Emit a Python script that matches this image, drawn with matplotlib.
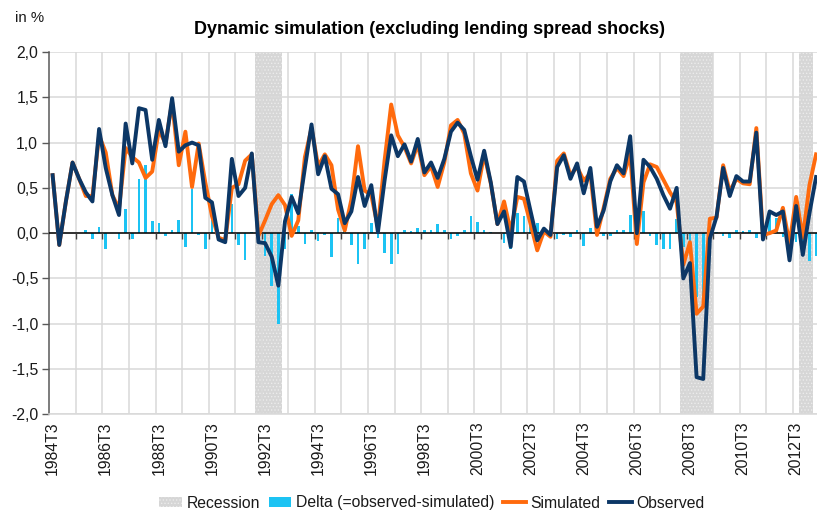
import matplotlib
matplotlib.use('Agg')
import matplotlib.pyplot as plt
from matplotlib.patches import Patch
from matplotlib.lines import Line2D
import numpy as np

plt.rcParams['font.family'] = ['Liberation Sans', 'DejaVu Sans']
plt.rcParams['hatch.linewidth'] = 0.6

# ---------------- data ----------------
start_year, start_q, n_quarters = 1984, 3, 116
quarters = []
yy, qq = start_year, start_q
for _ in range(n_quarters):
    quarters.append(f"{yy}T{qq}")
    qq += 1
    if qq > 4:
        qq, yy = 1, yy + 1

observed = [
    0.64, -0.13, 0.35, 0.78, 0.60, 0.45, 0.35, 1.15,
    0.72, 0.42, 0.20, 1.21, 0.77, 1.38, 1.36, 0.81,
    1.25, 0.96, 1.49, 0.90, 0.97, 1.00, 0.97, 0.39,
    0.34, -0.07, -0.10, 0.82, 0.41, 0.50, 0.88, -0.10,
    -0.11, -0.26, -0.58, 0.13, 0.40, 0.22, 0.72, 1.20,
    0.65, 0.85, 0.49, 0.43, 0.11, 0.24, 0.62, 0.30,
    0.53, 0.01, 0.58, 1.08, 0.85, 0.98, 0.79, 1.04,
    0.67, 0.78, 0.61, 0.82, 1.12, 1.22, 1.14, 0.85,
    0.59, 0.91, 0.56, 0.10, 0.24, -0.15, 0.62, 0.57,
    0.24, -0.08, 0.05, -0.02, 0.73, 0.86, 0.60, 0.77,
    0.44, 0.72, 0.07, 0.25, 0.57, 0.75, 0.66, 1.07,
    0.00, 0.81, 0.73, 0.60, 0.42, 0.27, 0.50, -0.50,
    -0.33, -1.59, -1.61, -0.06, 0.18, 0.72, 0.41, 0.63,
    0.57, 0.57, 1.11, -0.07, 0.24, 0.20, 0.24, -0.30,
    0.30, -0.24, 0.22, 0.62]

simulated = [
    0.64, -0.13, 0.35, 0.78, 0.60, 0.41, 0.41, 1.08,
    0.89, 0.42, 0.27, 0.94, 0.84, 0.78, 0.61, 0.68,
    1.14, 0.99, 1.45, 0.75, 1.12, 0.51, 0.99, 0.56,
    0.19, -0.05, -0.08, 0.50, 0.54, 0.80, 0.87, -0.03,
    0.14, 0.32, 0.42, 0.31, -0.03, 0.14, 0.84, 1.16,
    0.74, 0.87, 0.75, 0.26, 0.03, 0.37, 0.96, 0.47,
    0.42, 0.06, 0.80, 1.42, 1.08, 0.95, 0.77, 0.98,
    0.64, 0.74, 0.51, 0.78, 1.19, 1.25, 1.10, 0.66,
    0.47, 0.87, 0.55, 0.10, 0.35, 0.02, 0.40, 0.38,
    0.10, -0.19, 0.02, -0.04, 0.80, 0.88, 0.64, 0.73,
    0.58, 0.66, -0.02, 0.28, 0.60, 0.72, 0.63, 0.87,
    -0.12, 0.56, 0.76, 0.73, 0.59, 0.45, 0.34, -0.35,
    -0.10, -0.89, -0.81, 0.16, 0.17, 0.75, 0.46, 0.60,
    0.55, 0.54, 1.16, -0.02, 0.00, 0.03, 0.28, -0.12,
    0.40, -0.05, 0.53, 0.87]

recession_periods = [("1992T2", "1993T1"), ("2008T2", "2009T2"), ("2012T4", "2013T1")]

tick_labels = ["1984T3", "1986T3", "1988T3", "1990T3", "1992T3", "1994T3", "1996T3",
               "1998T3", "2000T3", "2002T3", "2004T3", "2006T3", "2008T3", "2010T3", "2012T3"]
y_ticks = [-2.0, -1.5, -1.0, -0.5, 0.0, 0.5, 1.0, 1.5, 2.0]
y_tick_labels = ["-2,0", "-1,5", "-1,0", "-0,5", "0,0", "0,5", "1,0", "1,5", "2,0"]

title = "Dynamic simulation (excluding lending spread shocks)"

# ---------------- styles ----------------
c_obs = '#0c3766'
c_sim = '#ff6a0d'
c_delta = '#1cc3f3'
c_grid = '#d9d9d9'
c_rec_face = '#d6d6d6'
c_rec_hatch = '#ececec'
c_text = '#1a1a1a'

x = np.arange(len(quarters))
obs = np.array(observed)
sim = np.array(simulated)
delta = obs - sim

W, H = 817, 514
fig = plt.figure(figsize=(W / 100, H / 100), dpi=100)
left_px, right_px, top_px, bottom_px = 49.3, 819.4, 52.0, 414.3
ax = fig.add_axes([left_px / W, 1 - bottom_px / H,
                   (right_px - left_px) / W, (bottom_px - top_px) / H])

ax.set_xlim(-0.5, len(quarters) - 0.5)
ax.set_ylim(-2, 2)

# recessions
for a, b in recession_periods:
    i0, i1 = quarters.index(a), quarters.index(b)
    ax.axvspan(i0 - 0.5, i1 + 0.5, facecolor=c_rec_face, edgecolor=c_rec_hatch,
               hatch='.....', linewidth=0, zorder=0.5)

# grid
ax.set_yticks(y_ticks)
ax.set_yticklabels(y_tick_labels)
ax.yaxis.grid(True, color=c_grid, lw=1.1, zorder=0.3)
ax.set_xticks(np.arange(3.5, len(quarters) - 0.5, 4), minor=True)
ax.xaxis.grid(True, which='minor', color=c_grid, lw=1.1, zorder=0.3)
ax.set_axisbelow(True)

tick_pos = [quarters.index(t) for t in tick_labels]
ax.set_xticks(tick_pos)
ax.set_xticklabels(tick_labels, rotation=90, fontsize=11.3, color=c_text)
ax.tick_params(axis='x', which='both', length=0, pad=5)
ax.tick_params(axis='y', direction='out', length=5, width=1.0, color='#595959',
               labelsize=11.3, labelcolor=c_text, pad=3)

for s in ['top', 'right']:
    ax.spines[s].set_visible(False)
ax.spines['bottom'].set_color(c_grid)
ax.spines['bottom'].set_linewidth(1.1)
ax.spines['left'].set_color('#595959')
ax.spines['left'].set_linewidth(1.1)

# delta bars
ax.bar(x, delta, width=0.4, color=c_delta, zorder=2)

# zero axis with small ticks
ax.axhline(0, color='black', lw=1.1, zorder=3)
ax.vlines(np.arange(3.5, len(quarters) - 0.5, 4), -0.065, 0, color='#404040', lw=1.0, zorder=3)

# lines
ax.plot(x, sim, color=c_sim, lw=2.8, zorder=4, solid_joinstyle='round')
ax.plot(x, obs, color=c_obs, lw=2.8, zorder=5, solid_joinstyle='round')

# texts
fig.text(430 / W, 1 - 30 / H, title, ha='center', va='center', fontsize=13,
         fontweight='bold', color='black')
fig.text(15 / W, 1 - 18.5 / H, 'in %', ha='left', va='center', fontsize=10.8, color=c_text)

handles = [
    Patch(facecolor=c_rec_face, edgecolor=c_rec_hatch, hatch='.....', linewidth=0),
    Patch(facecolor=c_delta, edgecolor='none'),
    Line2D([0], [0], color=c_sim, lw=2.8),
    Line2D([0], [0], color=c_obs, lw=2.8),
]
labels = ['Recession', 'Delta (=observed-simulated)', 'Simulated', 'Observed']
fig.legend(handles, labels, loc='center', bbox_to_anchor=(432 / W, 1 - 503 / H),
           ncol=4, frameon=False, fontsize=11.3, handlelength=1.45, handleheight=0.6,
           handletextpad=0.3, columnspacing=0.55, borderpad=0, labelcolor=c_text)

fig.savefig('out.png', dpi=100)
